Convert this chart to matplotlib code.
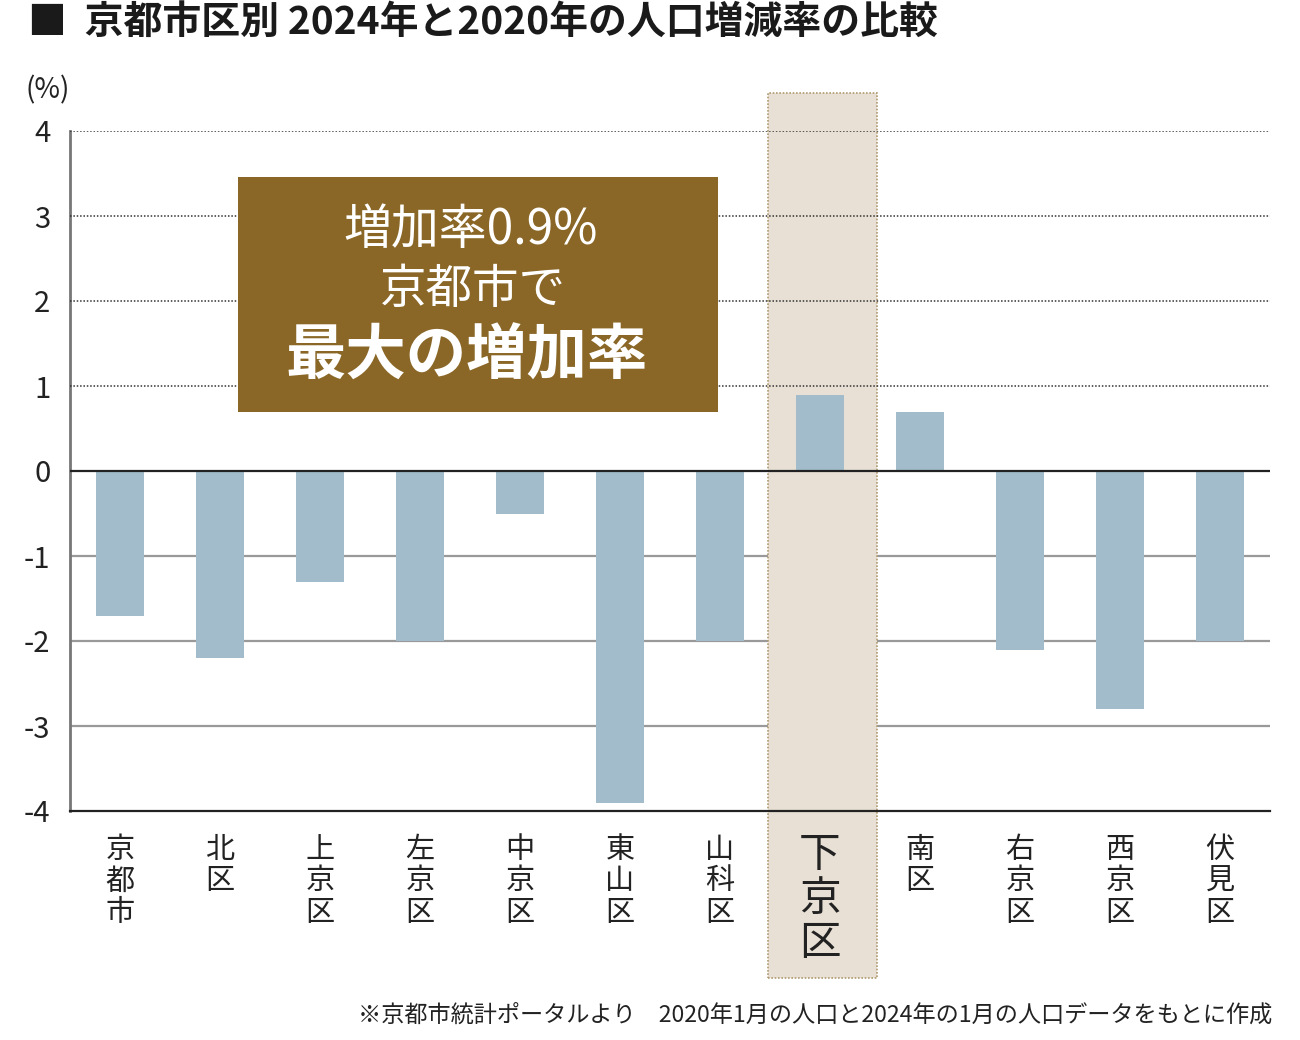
import matplotlib
matplotlib.use("Agg")
import matplotlib.pyplot as plt
from matplotlib.patches import Rectangle

plt.rcParams['font.family'] = ['Noto Sans CJK JP', 'DejaVu Sans']

categories = ["京都市", "北区", "上京区", "左京区", "中京区", "東山区", "山科区",
              "下京区", "南区", "右京区", "西京区", "伏見区"]
values = [-1.7, -2.2, -1.3, -2.0, -0.5, -3.9, -2.0, 0.9, 0.7, -2.1, -2.8, -2.0]
yticks = [4, 3, 2, 1, 0, -1, -2, -3, -4]
highlight = "下京区"

title = "■  京都市区別 2024年と2020年の人口増減率の比較"
footnote = "※京都市統計ポータルより　2020年1月の人口と2024年の1月の人口データをもとに作成"
box_lines = ["増加率0.9%", "京都市で", "最大の増加率"]

bar_color = "#a3bccb"
band_color = "#e8e0d4"
box_color = "#8a6727"

fig = plt.figure(figsize=(13, 10.4), dpi=100)
ax = fig.add_axes([70/1300, 1-811/1040, 1200/1300, 680/1040])
ax.set_xlim(-0.5, len(categories) - 0.5)
ax.set_ylim(-4, 4)

# highlight band
hi = categories.index(highlight)
band = Rectangle((hi - 0.52, -5.96), 1.09, 10.41, facecolor=band_color,
                 edgecolor="#b09a70", linestyle=(0, (1, 1)), linewidth=1.2,
                 clip_on=False, zorder=1)
ax.add_patch(band)

# grid lines
for t in yticks:
    if t > 0:
        ax.axhline(t, color="#333333", linestyle=(0, (1, 1.2)), linewidth=1.1, zorder=3)
    elif t < 0 and t > -4:
        ax.axhline(t, color="#999999", linewidth=1.6, zorder=0.5)
ax.axhline(0, color="#222222", linewidth=1.6, zorder=4)

ax.bar(range(len(categories)), values, width=0.48, color=bar_color, zorder=2)

for s in ["top", "right"]:
    ax.spines[s].set_visible(False)
ax.spines["left"].set_color("#777777")
ax.spines["left"].set_linewidth(2)
ax.spines["bottom"].set_color("#222222")
ax.spines["bottom"].set_linewidth(1.6)
ax.spines["bottom"].set_zorder(4)

ax.set_yticks(yticks)
ax.set_yticklabels([str(t) for t in yticks], fontsize=21, color="#222222")
ax.tick_params(axis="y", length=0, pad=14)

ax.set_xticks(range(len(categories)))
ax.set_xticklabels(["\n".join(c) for c in categories], fontsize=21,
                   linespacing=1.08, color="#222222")
ax.tick_params(axis="x", length=0, pad=17)
for lbl in ax.get_xticklabels():
    lbl.set_verticalalignment("top")
    if lbl.get_text().replace("\n", "") == highlight:
        lbl.set_fontsize(30)
        lbl.set_linespacing(1.1)

fig.text(25/1300, 1-90/1040, "(%)", fontsize=20, color="#222222", va="center", ha="left")

# annotation box
bx = Rectangle((238/1300, 1-412/1040), 480/1300, 235/1040, transform=fig.transFigure,
               facecolor=box_color, edgecolor="none", zorder=5)
fig.patches.append(bx)
fig.text(471/1300, 1-230/1040, box_lines[0], fontsize=34.5, color="white", ha="center", va="center", zorder=6)
fig.text(473/1300, 1-290/1040, box_lines[1], fontsize=33.5, color="white", ha="center", va="center", zorder=6)
fig.text(467/1300, 1-357/1040, box_lines[2], fontsize=43.5, color="white", fontweight="bold",
         ha="center", va="center", zorder=6)

fig.text(28/1300, 1-22/1040, title, fontsize=28, fontweight="bold", color="#1a1a1a",
         ha="left", va="center")
fig.text(1272/1300, 1-1015/1040, footnote, fontsize=16.7, color="#222222", ha="right", va="center")

fig.savefig("out.png", dpi=100)
